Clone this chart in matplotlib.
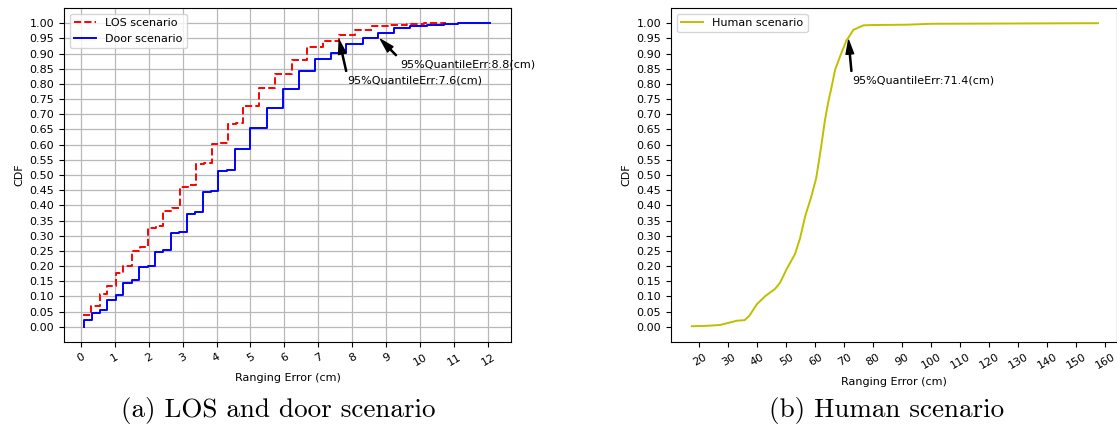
import matplotlib
matplotlib.use("Agg")
import matplotlib.pyplot as plt
import numpy as np

# ---------------- data ----------------
los_x = [0.08, 0.30, 0.57, 0.77, 1.03, 1.25, 1.52, 1.75, 1.98, 2.22, 2.43, 2.68,
         2.92, 3.17, 3.39, 3.63, 3.87, 4.10, 4.33, 4.56, 4.79, 5.26, 5.72, 6.21,
         6.65, 7.14, 7.60, 8.07, 8.57, 9.10, 9.60, 10.10, 10.77]
los_y = [0.038, 0.068, 0.108, 0.135, 0.178, 0.200, 0.250, 0.264, 0.326, 0.333,
         0.382, 0.390, 0.461, 0.467, 0.535, 0.540, 0.602, 0.606, 0.668, 0.671,
         0.727, 0.788, 0.833, 0.879, 0.920, 0.942, 0.961, 0.978, 0.990, 0.994,
         0.997, 0.999, 1.000]

door_x = [0.10, 0.10, 0.32, 0.57, 0.78, 1.03, 1.25, 1.50, 1.73, 1.97, 2.19, 2.43,
          2.66, 2.90, 3.12, 3.36, 3.59, 3.84, 4.05, 4.30, 4.54, 4.77, 5.00, 5.48,
          5.95, 6.44, 6.90, 7.36, 7.81, 8.30, 8.76, 9.23, 9.69, 10.19, 10.70,
          11.10, 12.05]
door_y = [0.000, 0.022, 0.046, 0.055, 0.088, 0.104, 0.145, 0.154, 0.197, 0.201,
          0.247, 0.253, 0.310, 0.312, 0.371, 0.377, 0.443, 0.448, 0.514, 0.516,
          0.585, 0.587, 0.654, 0.720, 0.782, 0.843, 0.881, 0.903, 0.932, 0.951,
          0.969, 0.984, 0.991, 0.995, 0.997, 0.999, 1.000]

human_x = [17.4, 22.0, 27.1, 30.0, 32.9, 35.6, 37.2, 39.8, 42.7, 46.1, 47.8, 50.1,
           53.0, 54.7, 56.6, 58.5, 60.3, 62.0, 63.3, 64.6, 65.5, 66.8, 68.5, 70.8,
           71.4, 73.1, 76.6, 80.0, 91.5, 100.0, 130.0, 157.5]
human_y = [0.002, 0.003, 0.006, 0.013, 0.020, 0.022, 0.036, 0.074, 0.101, 0.125,
           0.145, 0.190, 0.240, 0.291, 0.368, 0.425, 0.490, 0.593, 0.680, 0.747,
           0.785, 0.846, 0.890, 0.945, 0.952, 0.978, 0.993, 0.994, 0.995, 0.998,
           0.999, 1.000]

left_xticks = list(range(0, 13))
right_xticks = list(range(20, 161, 10))
yticks = [round(0.05 * i, 2) for i in range(21)]

los_q = (7.6, 0.95)
door_q = (8.8, 0.95)
human_q = (71.4, 0.95)

# ---------------- figure ----------------
W, H = 1117, 429
fig = plt.figure(figsize=(W / 100, H / 100), dpi=100)
plt.rcParams['font.family'] = ['DejaVu Sans']
fs = 8

def px_axes(x0, y0, x1, y1):
    return fig.add_axes([x0 / W, 1 - y1 / H, (x1 - x0) / W, (y1 - y0) / H])

ax1 = px_axes(64, 8, 511, 342)
ax2 = px_axes(671, 8, 1116.5, 342)

arrow_kw = dict(facecolor='black', edgecolor='black', shrink=0.05,
                width=0.8, headwidth=5.5, headlength=10)

# left
ax1.step(los_x, los_y, where='post', color='red', ls='--', lw=1.4,
         label='LOS scenario')
ax1.step(door_x, door_y, where='post', color='blue', ls='-', lw=1.4,
         label='Door scenario')
ax1.set_xlim(-0.49, 12.67)
ax1.set_ylim(-0.05, 1.05)
ax1.set_xticks(left_xticks)
ax1.set_yticks(yticks)
ax1.set_yticklabels([f"{v:.2f}" for v in yticks])
ax1.grid(True, color='#b8b8b8', lw=0.9)
ax1.legend(loc='upper left', fontsize=fs)
ax1.annotate(f"95%QuantileErr:{los_q[0]}(cm)", xy=los_q, xytext=(7.85, 0.80),
             fontsize=fs, arrowprops=arrow_kw)
ax1.annotate(f"95%QuantileErr:{door_q[0]}(cm)", xy=door_q, xytext=(9.4, 0.855),
             fontsize=fs, arrowprops=arrow_kw)
ax1.set_xlabel("Ranging Error (cm)", fontsize=fs)
ax1.set_ylabel("CDF", fontsize=fs)

# right
ax2.plot(human_x, human_y, color='y', lw=1.4, label='Human scenario')
ax2.set_xlim(10.2, 163.9)
ax2.set_ylim(-0.05, 1.05)
ax2.set_xticks(right_xticks)
ax2.set_yticks(yticks)
ax2.set_yticklabels([f"{v:.2f}" for v in yticks])
ax2.legend(loc='upper left', fontsize=fs)
ax2.annotate(f"95%QuantileErr:{human_q[0]}(cm)", xy=human_q, xytext=(72.6, 0.80),
             fontsize=fs, arrowprops=arrow_kw)
ax2.set_xlabel("Ranging Error (cm)", fontsize=fs)
ax2.set_ylabel("CDF", fontsize=fs)

for ax in (ax1, ax2):
    ax.tick_params(labelsize=fs)
    for lab in ax.get_xticklabels():
        lab.set_rotation(30)

fig.text(278 / W, 1 - 411 / H, "(a) LOS and door scenario", fontsize=19.5,
         family='cmr10', ha='center', va='center')
fig.text(887 / W, 1 - 411 / H, "(b) Human scenario", fontsize=19.5,
         family='cmr10', ha='center', va='center')

fig.savefig("out.png", dpi=100)
